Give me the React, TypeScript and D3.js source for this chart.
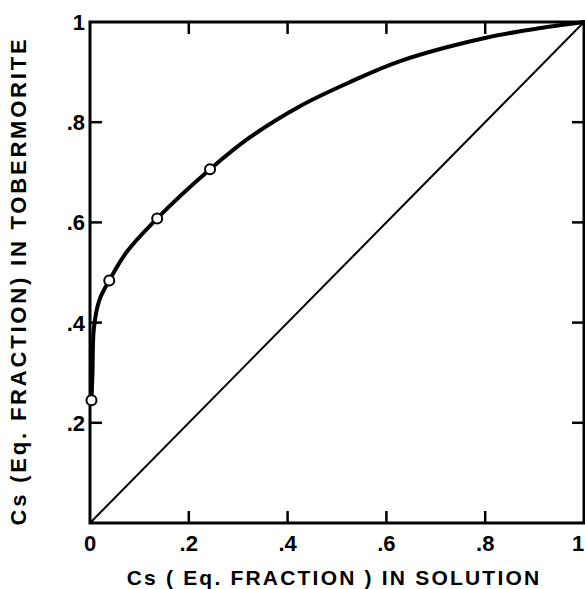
import React from "react";
import * as d3 from "d3";

const xTicks = [0.2, 0.4, 0.6, 0.8];
const yTicks = [0.2, 0.4, 0.6, 0.8];
const xTickLabels = ["0", ".2", ".4", ".6", ".8", "1"];
const xTickValues = [0, 0.2, 0.4, 0.6, 0.8, 1];
const yTickLabels = [".2", ".4", ".6", ".8", "1"];
const yTickValues = [0.2, 0.4, 0.6, 0.8, 1];

const curveX = [0.003, 0.005, 0.008, 0.019, 0.039, 0.075, 0.136, 0.243, 0.324, 0.425, 0.526, 0.628, 0.804, 0.925, 1];
const curveY = [0.245, 0.30, 0.39, 0.445, 0.484, 0.542, 0.608, 0.706, 0.77, 0.832, 0.88, 0.922, 0.969, 0.99, 1];

const pointX = [0.003, 0.039, 0.136, 0.243];
const pointY = [0.245, 0.484, 0.608, 0.706];

const diagonal = [0, 1];

export default function App() {
  const W = 585, H = 589;
  const x = d3.scaleLinear().domain([0, 1]).range([90, 584]);
  const y = d3.scaleLinear().domain([0, 1]).range([523, 22]);
  const line = d3.line<[number, number]>().x(d => x(d[0])).y(d => y(d[1])).curve(d3.curveCatmullRom.alpha(0.5));
  const curveData: [number, number][] = curveX.map((v, i) => [v, curveY[i]]);
  const font = "'Liberation Sans', Arial, sans-serif";
  const tickLen = 12;
  return (
    <svg width={W} height={H} style={{ position: "absolute", left: 0, top: 0, background: "#fff" }}>
      <rect x={0} y={0} width={W} height={H} fill="#fff" />
      <rect x={x(0)} y={y(1)} width={x(1) - x(0)} height={y(0) - y(1)} fill="none" stroke="#000" strokeWidth={3} />
      {xTicks.map((t, i) => (
        <g key={"xt" + i}>
          <line x1={x(t)} x2={x(t)} y1={y(0)} y2={y(0) - tickLen} stroke="#000" strokeWidth={2.5} />
          <line x1={x(t)} x2={x(t)} y1={y(1)} y2={y(1) + tickLen} stroke="#000" strokeWidth={2.5} />
        </g>
      ))}
      {yTicks.map((t, i) => (
        <g key={"yt" + i}>
          <line x1={x(0)} x2={x(0) + tickLen} y1={y(t)} y2={y(t)} stroke="#000" strokeWidth={2.5} />
          <line x1={x(1)} x2={x(1) - tickLen} y1={y(t)} y2={y(t)} stroke="#000" strokeWidth={2.5} />
        </g>
      ))}
      <line x1={x(diagonal[0])} y1={y(diagonal[0])} x2={x(diagonal[1])} y2={y(diagonal[1])} stroke="#000" strokeWidth={2} />
      <path d={line(curveData) || ""} fill="none" stroke="#000" strokeWidth={4} strokeLinecap="round" />
      {pointX.map((v, i) => (
        <circle key={"p" + i} cx={x(v)} cy={y(pointY[i])} r={5} fill="#fff" stroke="#000" strokeWidth={2} />
      ))}
      {xTickValues.map((v, i) => (
        <text key={"xl" + i} x={Math.min(x(v), 578)} y={551} textAnchor="middle" fontFamily={font} fontWeight="bold" fontSize={22} fill="#000">
          {xTickLabels[i]}
        </text>
      ))}
      {yTickValues.map((v, i) => (
        <text key={"yl" + i} x={85} y={y(v) + 8} textAnchor="end" fontFamily={font} fontWeight="bold" fontSize={22} fill="#000">
          {yTickLabels[i]}
        </text>
      ))}
      <text x={334} y={585} textAnchor="middle" fontFamily={font} fontWeight="bold" fontSize={21} letterSpacing={2.2} fill="#000">
        Cs ( Eq. FRACTION ) IN SOLUTION
      </text>
      <text transform={`translate(26, 281) rotate(-90)`} textAnchor="middle" fontFamily={font} fontWeight="bold" fontSize={22} letterSpacing={2.8} fill="#000">
        Cs (Eq. FRACTION) IN TOBERMORITE
      </text>
    </svg>
  );
}
